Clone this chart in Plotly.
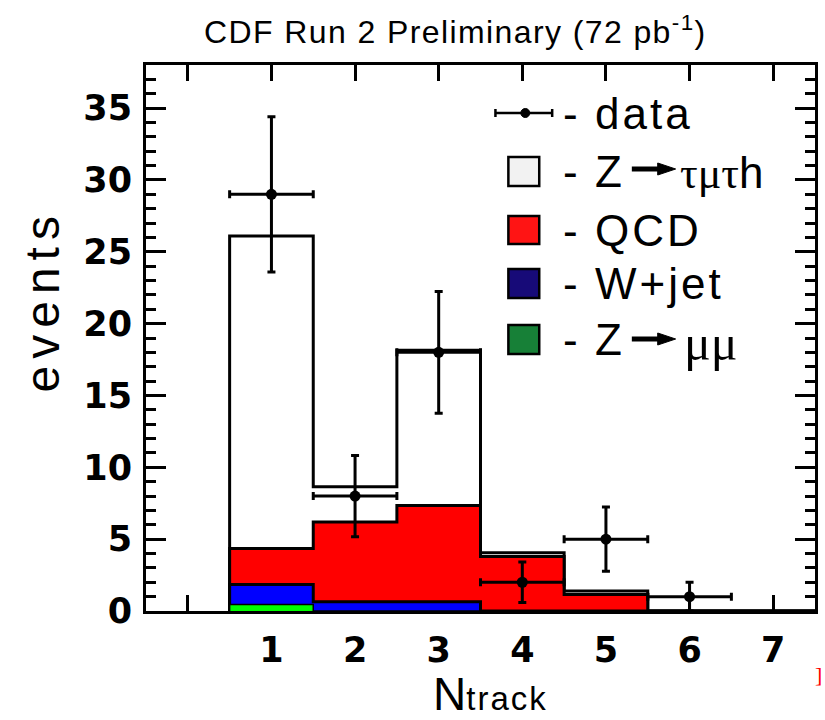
import plotly.graph_objects as go

# Track multiplicity bins and stacked background expectations (events per bin)
ntrack = [1, 2, 3, 4, 5, 6, 7]
z_mumu = [0.45, 0, 0, 0, 0, 0, 0]
w_jet = [1.4, 0.65, 0.65, 0, 0, 0, 0]
qcd = [2.5, 5.55, 6.7, 3.8, 1.15, 0, 0]
z_tautau = [21.75, 2.45, 10.8, 0.25, 0.25, 0, 0]

# Observed events with statistical uncertainties
data_x = [1, 2, 3, 4, 5, 6]
data_y = [29, 8, 18, 2, 5, 1]
data_err = [5.4, 2.83, 4.24, 1.41, 2.24, 1.0]

x_ticks = [1, 2, 3, 4, 5, 6, 7]
x_ticktext = ["1", "2", "3", "4", "5", "6", "7"]
y_ticks = [0, 5, 10, 15, 20, 25, 30, 35]

W, H = 825, 720
PL, PR, PT, PB = 146, 818, 65, 611


def cumulate(*series):
    return [sum(v) for v in zip(*series)]


def step(vals):
    xs, ys = [ntrack[0] - 0.5], [0]
    for c, v in zip(ntrack, vals):
        xs += [c - 0.5, c + 0.5]
        ys += [v, v]
    xs.append(ntrack[-1] + 0.5)
    ys.append(0)
    return xs, ys


def px(x):
    return (x - PL) / (PR - PL)


def py(y):
    return (PB - y) / (PB - PT)


stack = [
    (cumulate(z_mumu, w_jet, qcd, z_tautau), "#ffffff", 3),
    (cumulate(z_mumu, w_jet, qcd), "#ff0000", 3),
    (cumulate(z_mumu, w_jet), "#0000ff", 3),
    (z_mumu, "#00ff00", 1.5),
]

fig = go.Figure()
for vals, color, lw in stack:
    xs, ys = step(vals)
    fig.add_trace(go.Scatter(
        x=xs, y=ys, mode="lines", fill="tozeroy", fillcolor=color,
        line=dict(color="black", width=lw), hoverinfo="skip", showlegend=False,
    ))

fig.add_trace(go.Scatter(
    x=data_x, y=data_y, mode="markers",
    marker=dict(color="black", size=11, symbol="circle"),
    error_y=dict(type="data", array=data_err, color="black", thickness=3, width=4),
    error_x=dict(type="constant", value=0.5, color="black", thickness=3, width=4),
    showlegend=False,
))

SANS = "Liberation Sans"


def txt(s, x, y, size, xanchor="left", yanchor="middle", family=SANS, spacing=0, color="black", angle=0):
    if spacing:
        s = f"<span style='letter-spacing:{spacing}px'>{s}</span>"
    return dict(text=s, x=px(x), y=py(y), xref="paper", yref="paper", showarrow=False,
                xanchor=xanchor, yanchor=yanchor, textangle=angle,
                font=dict(family=family, size=size, color=color))


annotations = [
    txt("CDF Run 2 Preliminary (72 pb<sup>-1</sup>)", 457, 30, 32, xanchor="center", spacing=1.4),
    txt("events", 42, 301, 48, xanchor="center", spacing=7, angle=-90),
    txt("N<span style='font-size:33px;letter-spacing:2px'>track</span>", 492, 694, 46, xanchor="center"),
    txt("]", 822, 674, 22, xanchor="center", family="Liberation Serif", color="#ff0000"),
]

# legend entries
rows = [113, 171.5, 230, 283.5, 339.5]
labels = ["data", "Z", "QCD", "W+jet", "Z"]
for yr, lab in zip(rows, labels):
    annotations.append(txt("-", 563, yr, 44))
    annotations.append(txt(lab, 595, yr, 44, spacing=(0 if lab == "Z" else 3)))
annotations.append(txt("<span style='font-family:Liberation Serif'>τμτ</span>h", 680, 173, 44))
annotations.append(txt("<span style='font-family:Liberation Serif'>μμ</span>", 684, 343, 50))

shapes = []
legend_boxes = [(157, 186, "#f2f2f2"), (216, 244, "#ff1414"), (269, 298, "#170a78"), (325, 354, "#178037")]
for y0, y1, color in legend_boxes:
    shapes.append(dict(type="rect", xref="paper", yref="paper", x0=px(510), x1=px(541),
                       y0=py(y1), y1=py(y0), fillcolor=color, line=dict(color="black", width=2.5)))
# data marker glyph in legend
shapes.append(dict(type="line", xref="paper", yref="paper", x0=px(497), x1=px(554), y0=py(113), y1=py(113),
                   line=dict(color="black", width=2.5)))
for xc in (497, 554):
    shapes.append(dict(type="line", xref="paper", yref="paper", x0=px(xc), x1=px(xc), y0=py(109), y1=py(117),
                       line=dict(color="black", width=2.5)))
shapes.append(dict(type="circle", xref="paper", yref="paper", x0=px(522.5), x1=px(531.5), y0=py(117.5), y1=py(108.5),
                   fillcolor="black", line=dict(color="black", width=1)))
# bold arrows in the Z decay labels
for yr in (169, 339):
    shapes.append(dict(type="line", xref="paper", yref="paper", x0=px(634), x1=px(664), y0=py(yr), y1=py(yr),
                       line=dict(color="black", width=5)))
    shapes.append(dict(type="path", xref="paper", yref="paper",
                       path=f"M {px(660)} {py(yr - 6)} L {px(678)} {py(yr)} L {px(660)} {py(yr + 6)} Z",
                       fillcolor="black", line=dict(color="black", width=1)))

axis_common = dict(showgrid=False, zeroline=False, showline=True, linecolor="black", linewidth=3,
                   mirror="ticks", ticks="inside", tickcolor="black", tickwidth=3,
                   tickfont=dict(family="DejaVu Sans", size=35, color="black", weight="bold"))

fig.update_layout(
    width=W, height=H,
    margin=dict(l=PL, r=W - PR, t=PT, b=H - PB),
    paper_bgcolor="white", plot_bgcolor="white",
    xaxis=dict(range=[-0.5, 7.5], tickvals=x_ticks, ticktext=x_ticktext, ticklen=16,
               ticklabelstandoff=6, layer="below traces",
               minor=dict(tick0=0, dtick=1, ticklen=16, tickwidth=3, tickcolor="black", ticks="inside"),
               **axis_common),
    yaxis=dict(range=[0, 38], tickvals=y_ticks, ticklen=20, ticklabelstandoff=4,
               minor=dict(dtick=1, ticklen=10, tickwidth=2.5, tickcolor="black", ticks="inside"),
               **axis_common),
    annotations=annotations,
    shapes=shapes,
    showlegend=False,
)

fig.write_html("out.html")
